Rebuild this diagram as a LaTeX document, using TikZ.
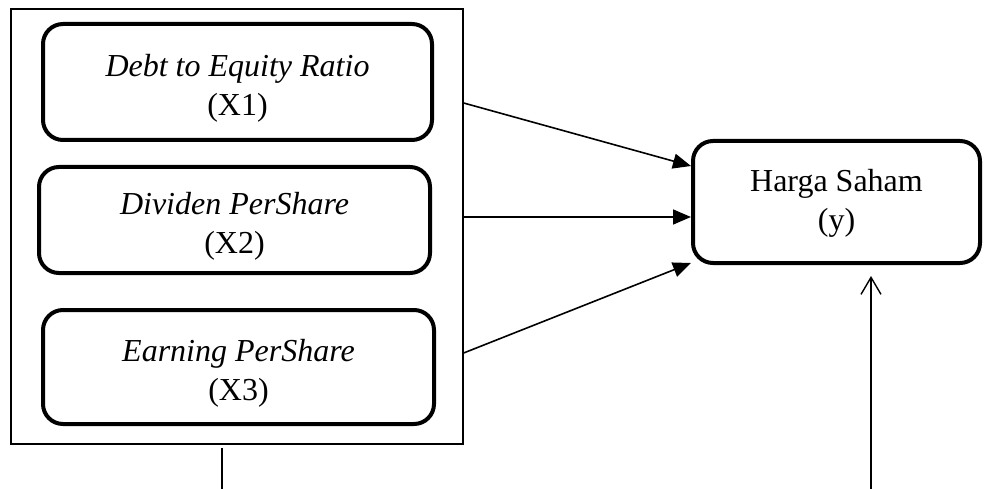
\documentclass[tikz,border=0pt]{standalone}
\usepackage{fontspec}
\setmainfont{Liberation Serif}
\usetikzlibrary{arrows.meta}

\begin{document}
\begin{tikzpicture}[x=1pt, y=-1pt,
    every node/.style={rectangle, rounded corners=20pt, draw=black, line width=4pt, align=center, font=\fontsize{32}{39}\selectfont, text height=73pt},
    link/.style={line width=1.6pt, -{Triangle[length=18pt,width=15pt]}}]
    \useasboundingbox (0,0) rectangle (985,489);

    \node (frame) at (237,226.5) [sharp corners, line width=1.3pt, minimum width=452pt, minimum height=435pt] {};
    \node (der) at (237.5,82) [minimum width=389pt, minimum height=116pt] {\textit{Debt to Equity Ratio}\\(X1)};
    \node (dps) at (234.5,220) [minimum width=391pt, minimum height=106pt] {\textit{Dividen PerShare}\\(X2)};
    \node (eps) at (238.5,367) [minimum width=391pt, minimum height=114pt] {\textit{Earning PerShare}\\(X3)};
    \node (harga) at (836.5,202) [minimum width=287pt, minimum height=122pt, text height=63pt] {Harga Saham\\(y)};

    \coordinate (leftend) at (222,489);
    \coordinate (rightend) at (871,489);

    \draw[link] ([yshift=-21pt]frame.east |- der.center) -- ([yshift=36pt]harga.west);
    \draw[link] ([yshift=-15pt]harga.west -| frame.east) -- ([yshift=-15pt]harga.west);
    \draw[link] ([yshift=14pt]frame.east |- eps.center) -- ([yshift=-61pt]harga.west);

    \draw[line width=1.6pt] ([yshift=-3pt]frame.south -| leftend) -- (leftend);
    \draw[line width=1.4pt, -{Straight Barb[length=17pt,width=20pt]}] (rightend) -- ([yshift=-11pt]harga.south -| rightend);
\end{tikzpicture}
\end{document}
